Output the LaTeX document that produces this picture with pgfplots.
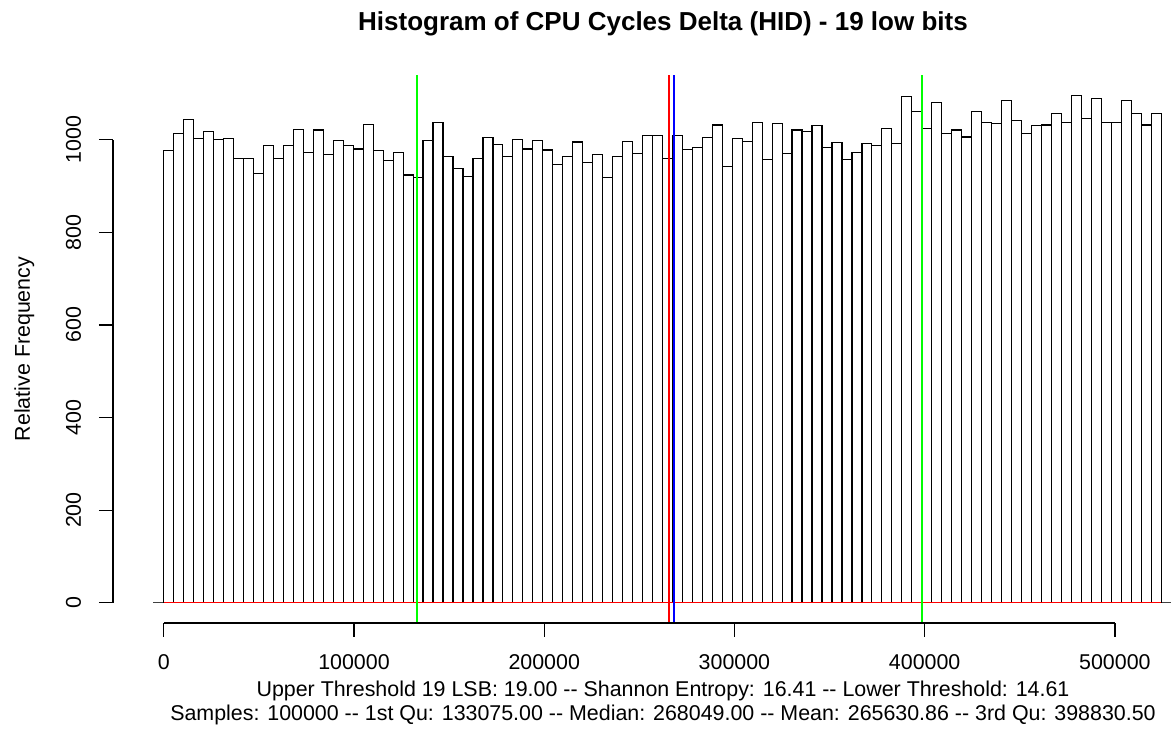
\documentclass[border=0pt]{standalone}
\usepackage{fontspec}
\setmainfont{Liberation Sans}
\usepackage{pgfplots}
\usepackage{pgfplotstable}
\pgfplotsset{compat=1.18}
\pgfplotstableread{
x y
0 976
5242.88 1013
10485.76 1044
15728.64 1002
20971.52 1018
26214.4 1001
31457.28 1002
36700.16 960
41943.04 960
47185.92 927
52428.8 987
57671.68 960
62914.56 988
68157.44 1022
73400.32 973
78643.2 1021
83886.08 968
89128.96 998
94371.84 988
99614.72 980
104857.6 1033
110100.48 976
115343.36 955
120586.24 972
125829.12 924
131072 919
136314.88 998
141557.76 1037
146800.64 964
152043.52 937
157286.4 920
162529.28 960
167772.16 1005
173015.04 989
178257.92 964
183500.8 1001
188743.68 980
193986.56 998
199229.44 978
204472.32 947
209715.2 964
214958.08 995
220200.96 950
225443.84 968
230686.72 919
235929.6 963
241172.48 996
246415.36 971
251658.24 1009
256901.12 1009
262144 960
267386.88 1009
272629.76 979
277872.64 983
283115.52 1005
288358.4 1032
293601.28 942
298844.16 1002
304087.04 996
309329.92 1037
314572.8 957
319815.68 1035
325058.56 970
330301.44 1021
335544.32 1017
340787.2 1030
346030.08 983
351272.96 994
356515.84 957
361758.72 973
367001.6 992
372244.48 987
377487.36 1025
382730.24 991
387973.12 1094
393216 1061
398458.88 1025
403701.76 1081
408944.64 1014
414187.52 1021
419430.4 1006
424673.28 1061
429916.16 1037
435159.04 1035
440401.92 1085
445644.8 1042
450887.68 1014
456130.56 1030
461373.44 1032
466616.32 1056
471859.2 1037
477102.08 1096
482344.96 1045
487587.84 1089
492830.72 1037
498073.6 1038
503316.48 1085
508559.36 1056
513802.24 1032
519045.12 1056
524288 0
}\histdata
\definecolor{Rgreen}{rgb}{0,1,0}
\definecolor{Rred}{rgb}{1,0,0}
\definecolor{Rblue}{rgb}{0,0,1}
\begin{document}
\begin{tikzpicture}
\useasboundingbox (-56.5pt,-54pt) rectangle (529pt,311.5pt);
\begin{axis}[
  at={(0pt,0pt)}, anchor=south west,
  scale only axis,
  width=529pt, height=274pt,
  xmin=-26700, xmax=529500,
  ymin=-43.84, ymax=1139.84,
  clip=false,
  scaled x ticks=false, scaled y ticks=false,
  axis line style={draw=none},
  xtick pos=bottom, ytick pos=left,
  tick align=outside,
  major tick length=7pt,
  tick style={black, line width=0.6pt},
  xtick={0,100000,200000,300000,400000,500000},
  xticklabels={0,100000,200000,300000,400000,500000},
  ytick={0,200,400,600,800,1000},
  yticklabels={0,200,400,600,800,1000},
  ticklabel style={font=\fontsize{10.7}{12}\selectfont},
  xticklabel style={anchor=base, inner sep=0pt},
  xticklabel shift=16.5pt,
  yticklabel style={rotate=90, anchor=base, inner sep=0pt},
  yticklabel shift=9pt,
  /pgf/number format/assume math mode=true,
]
% baseline
\addplot[black!75, line width=0.6pt] coordinates {(-5500,0) (529500,0)};
% histogram bars
\addplot[ybar interval, draw=black, fill=none, line width=0.6pt] table[x=x,y=y] {\histdata};
% density-like red line along zero
\addplot[Rred, line width=0.7pt] coordinates {(0,0) (524288,0)};
% quartile / median / mean lines
\addplot[Rgreen, line width=1pt] coordinates {(133075,-43.84) (133075,1139.84)};
\addplot[Rgreen, line width=1pt] coordinates {(398830.5,-43.84) (398830.5,1139.84)};
\addplot[Rred, line width=1pt] coordinates {(265630.86,-43.84) (265630.86,1139.84)};
\addplot[Rblue, line width=1pt] coordinates {(268049,-43.84) (268049,1139.84)};
% R-style axis lines
\draw[black, line width=0.6pt] (axis cs:0,-43.84) -- (axis cs:500000,-43.84);
\draw[black, line width=0.6pt] (axis cs:-26700,0) -- (axis cs:-26700,1000);
\end{axis}
\node[anchor=base, font=\fontsize{13}{15}\selectfont\bfseries] at (275pt,296pt) {Histogram of CPU Cycles Delta (HID) - 19 low bits};
\node[anchor=base, font=\fontsize{10.7}{12}\selectfont, inner sep=0pt] at (275pt,-36.65pt) {Upper Threshold 19 LSB: 19.00 -{}- Shannon Entropy: 16.41 -{}- Lower Threshold: 14.61};
\node[anchor=base, font=\fontsize{10.7}{12}\selectfont, inner sep=0pt] at (275pt,-49pt) {Samples: 100000 -{}- 1st Qu: 133075.00 -{}- Median: 268049.00 -{}- Mean: 265630.86 -{}- 3rd Qu: 398830.50};
\node[anchor=base, rotate=90, font=\fontsize{10.7}{12}\selectfont, inner sep=0pt] at (-41.5pt,137pt) {Relative Frequency};
\end{tikzpicture}
\end{document}
